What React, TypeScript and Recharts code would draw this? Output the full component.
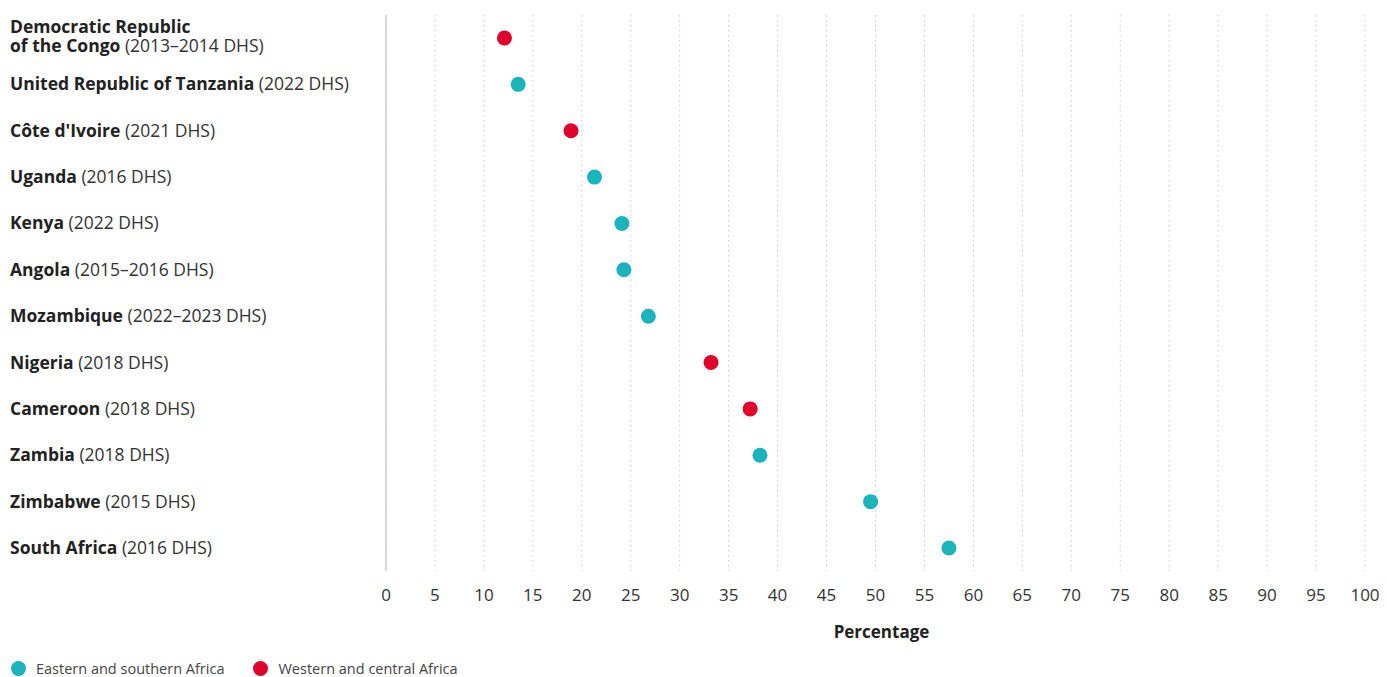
import { CartesianGrid, ComposedChart, Legend, Line, XAxis, YAxis } from 'recharts';

const COUNTRIES = [
  'Democratic Republic of the Congo',
  'United Republic of Tanzania',
  "Côte d'Ivoire",
  'Uganda',
  'Kenya',
  'Angola',
  'Mozambique',
  'Nigeria',
  'Cameroon',
  'Zambia',
  'Zimbabwe',
  'South Africa',
];

const SURVEYS = [
  '(2013–2014 DHS)',
  '(2022 DHS)',
  '(2021 DHS)',
  '(2016 DHS)',
  '(2022 DHS)',
  '(2015–2016 DHS)',
  '(2022–2023 DHS)',
  '(2018 DHS)',
  '(2018 DHS)',
  '(2018 DHS)',
  '(2015 DHS)',
  '(2016 DHS)',
];

const REGIONS = ['west', 'east', 'west', 'east', 'east', 'east', 'east', 'west', 'west', 'east', 'east', 'east'];

const VALUES = [12.1, 13.5, 18.9, 21.3, 24.1, 24.3, 26.8, 33.2, 37.2, 38.2, 49.5, 57.5];

const X_TICKS = [0, 5, 10, 15, 20, 25, 30, 35, 40, 45, 50, 55, 60, 65, 70, 75, 80, 85, 90, 95, 100];

const TEAL = '#1bb3bc';
const RED = '#e1002b';
const FONT = '"Open Sans", sans-serif';

const rows = COUNTRIES.map((name, i) => ({
  name,
  survey: SURVEYS[i],
  east: REGIONS[i] === 'east' ? VALUES[i] : null,
  west: REGIONS[i] === 'west' ? VALUES[i] : null,
}));

function CountryTick({ y, payload }: any) {
  const name: string = payload.value;
  const survey = SURVEYS[COUNTRIES.indexOf(name)];
  if (name === 'Democratic Republic of the Congo') {
    return (
      <text x={2} y={y} fontSize={17.5} fill="#222">
        <tspan x={2} dy={-5.5} fontWeight={700}>Democratic Republic</tspan>
        <tspan x={2} dy={19.5} fontWeight={700}>of the Congo</tspan>
        <tspan fill="#333"> {survey}</tspan>
      </text>
    );
  }
  return (
    <text x={2} y={y} dy={6} fontSize={17.5} fill="#222">
      <tspan fontWeight={700}>{name}</tspan>
      <tspan fill="#333"> {survey}</tspan>
    </text>
  );
}

function RegionLegend() {
  const items = [
    { label: 'Eastern and southern Africa', color: TEAL },
    { label: 'Western and central Africa', color: RED },
  ];
  return (
    <div style={{ display: 'flex', height: 30, paddingTop: 13, boxSizing: 'border-box', fontFamily: FONT, fontSize: 14.5, lineHeight: '16px', color: '#444' }}>
      {items.map((item, i) => (
        <div key={item.label} style={{ display: 'flex', alignItems: 'center', marginLeft: i === 0 ? 3 : 29 }}>
          <span style={{ width: 15, height: 15, borderRadius: '50%', background: item.color, marginRight: 10 }} />
          {item.label}
        </div>
      ))}
    </div>
  );
}

export default function App() {
  return (
    <ComposedChart
      width={1371}
      height={669}
      layout="vertical"
      data={rows}
      margin={{ top: 7, right: 14, bottom: 0, left: 0 }}
      style={{ fontFamily: FONT }}
    >
      <CartesianGrid horizontal={false} stroke="#c8c8c8" strokeDasharray="1.5 3.5" />
      <XAxis
        type="number"
        domain={[0, 100]}
        ticks={X_TICKS}
        interval={0}
        axisLine={false}
        tickLine={false}
        tickMargin={12}
        height={76}
        tick={{ fontSize: 17, fill: '#333' }}
        label={{ value: 'Percentage', position: 'insideBottom', offset: 9, dx: 6, fontSize: 17, fontWeight: 700, fill: '#222' }}
      />
      <YAxis
        type="category"
        dataKey="name"
        width={378}
        padding={{ top: 23, bottom: 23 }}
        axisLine={{ stroke: '#cfcfcf', strokeWidth: 1.5 }}
        tickLine={false}
        interval={0}
        tick={<CountryTick />}
      />
      <Legend verticalAlign="bottom" align="left" content={<RegionLegend />} />
      <Line
        dataKey="east"
        name="Eastern and southern Africa"
        stroke="none"
        dot={{ r: 7.5, fill: TEAL, stroke: 'none', fillOpacity: 1 }}
        activeDot={false}
        isAnimationActive={false}
      />
      <Line
        dataKey="west"
        name="Western and central Africa"
        stroke="none"
        dot={{ r: 7.5, fill: RED, stroke: 'none', fillOpacity: 1 }}
        activeDot={false}
        isAnimationActive={false}
      />
    </ComposedChart>
  );
}
